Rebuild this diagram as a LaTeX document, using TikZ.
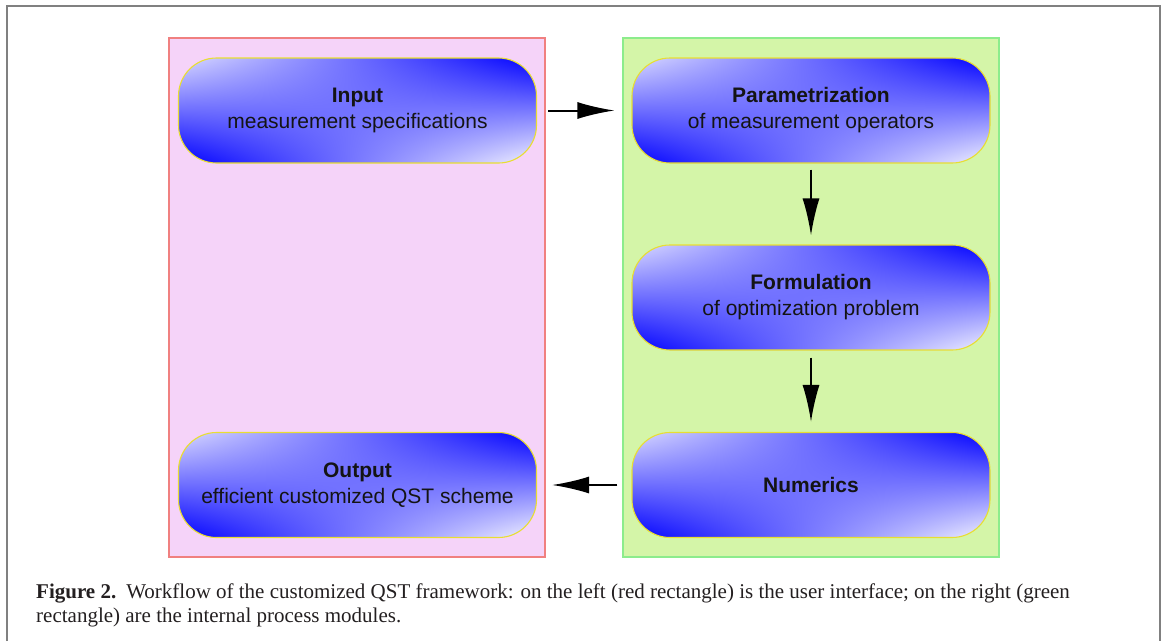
\documentclass[tikz,border=0pt]{standalone}
\usepackage{xcolor}
\usepackage{fontspec}
\setmainfont{Liberation Serif}
\setsansfont{Liberation Sans}
\usepackage{tikz}
\usetikzlibrary{arrows.meta}
\usetikzlibrary{positioning}
\tikzset{>=latex}
\definecolor{framegray}{RGB}{128,128,128}
\definecolor{userpink}{RGB}{245,211,249}
\definecolor{userred}{RGB}{240,128,128}
\definecolor{coregreen}{RGB}{212,245,168}
\definecolor{coreline}{RGB}{140,236,140}
\definecolor{boxyellow}{RGB}{232,222,50}
\definecolor{boxtext}{RGB}{20,20,20}
\definecolor{captext}{RGB}{35,31,32}
% four corner blend: light top left, white bottom right, blue elsewhere
\pgfdeclarefunctionalshading{boxshade}{\pgfpoint{0bp}{0bp}}{\pgfpoint{100bp}{100bp}}{}{
25 sub 50 div exch 25 sub 50 div 2 copy 1 exch sub mul 0.85 mul 3 1 roll exch 1 exch sub mul 0.95 mul add dup 1
}
\tikzstyle{panel} = [draw, line width=1.2pt]
\tikzstyle{proc} = [rectangle, rounded corners=38pt, draw=boxyellow, line width=1.1pt, shading=boxshade, minimum width=358pt, minimum height=105pt, align=center, text=boxtext, font=\sffamily\fontsize{21}{26}\selectfont]
\tikzstyle{flow} = [-{Latex[length=37pt, width=17pt]}, line width=2pt, draw=black]
\tikzstyle{captionline} = [anchor=base west, inner sep=0pt, text=captext, font=\fontsize{21}{24}\selectfont]

\begin{document}
\begin{tikzpicture}[x=1pt, y=-1pt]
\useasboundingbox (0,0) rectangle (1165,641);
\draw [draw=framegray, line width=2.5pt] (7,641) -- (7,6) -- (1160,6) -- (1160,641);
\draw [panel, draw=userred, fill=userpink] (169,38) rectangle (545,557);
\draw [panel, draw=coreline, fill=coregreen] (623,38) rectangle (999,557);
\node [proc] (in) at (357.5,110.5) {\textbf{Input}\\measurement specifications};
\node [proc] (par) at (811,110.5) {\textbf{Parametrization}\\of measurement operators};
\node [proc] (form) at (811,297.5) {\textbf{Formulation}\\of optimization problem};
\node [proc] (num) at (811,485) {\textbf{Numerics}};
\node [proc] (out) at (357.5,485) {\textbf{Output}\\efficient customized QST scheme};
\draw [flow, shorten <=11pt, shorten >=17pt] (in.east) to (par.west);
\draw [flow, shorten <=6pt, shorten >=9pt] (par.south) to (form.north);
\draw [flow, shorten <=7pt, shorten >=10pt] (form.south) to (num.north);
\draw [flow, shorten <=14pt, shorten >=15pt] (num.west) to (out.east);
\node [captionline] (cap1) at (36,598) {\textbf{Figure 2.}\hspace{10pt}Workflow of the customized QST framework: on the left (red rectangle) is the user interface; on the right (green};
\node [captionline] (cap2) at (36,622) {rectangle) are the internal process modules.};
\end{tikzpicture}
\end{document}
